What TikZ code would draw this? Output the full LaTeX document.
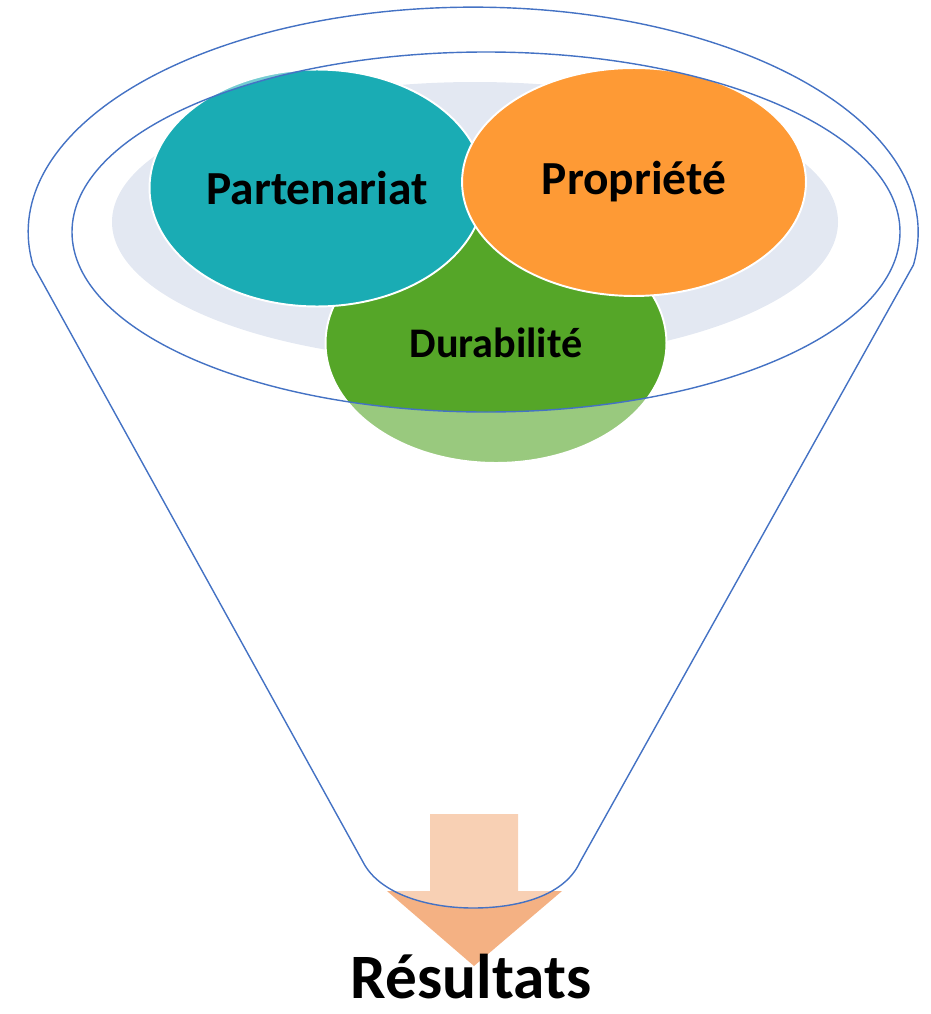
\documentclass[tikz,border=0pt]{standalone}
\usepackage{fontspec}
\setmainfont{Carlito}
\usetikzlibrary{shapes.geometric}

\definecolor{rimblue}{HTML}{4472C4}
\definecolor{haze}{HTML}{E3E8F2}
\definecolor{tealc}{HTML}{1AACB4}
\definecolor{orangec}{HTML}{FE9A35}
\definecolor{greenc}{HTML}{55A628}
\definecolor{arrowc}{HTML}{F4B183}

\begin{document}
\begin{tikzpicture}[x=0.02cm, y=0.02cm]
	\useasboundingbox (0,0) rectangle (930,-1014);
	\tikzset{blob/.style={draw=white, line width=1.1pt, ellipse, inner sep=0pt,
		font=\bfseries\fontsize{27}{30}\selectfont}}

	% background disc
	\fill[haze] (475,-222) ellipse [x radius=363, y radius=140];

	\node[blob, fill=greenc, minimum width=6.82cm, minimum height=4.8cm,
		font=\bfseries\fontsize{24}{28}\selectfont] (durab) at (496,-343) {Durabilité};
	\node[blob, fill=tealc, minimum width=6.7cm, minimum height=4.74cm]
		(parten) at (317,-188) {Partenariat};
	\node[blob, fill=orangec, minimum width=6.88cm, minimum height=4.56cm]
		(propr) at (634,-182) {Propriété};

	% arrow
	\fill[arrowc] (430,-814) -- (518,-814) -- (518,-891) -- (562,-891)
		-- (474,-966) -- (387,-891) -- (430,-891) -- cycle;

	\node[font=\bfseries\fontsize{36}{40}\selectfont, anchor=base, inner sep=0pt]
		(result) at (471,-998) {Résultats};

	% funnel
	\draw[rimblue, line width=0.8pt, fill=white, fill opacity=0.4, even odd rule]
		(33,-265) arc [start angle=188.4, end angle=-8.4, x radius=445, y radius=225]
		-- (580,-862) .. controls (565,-895) and (520,-908) .. (473,-908)
		.. controls (430,-908) and (380,-895) .. (363,-862) -- cycle
		(486,-232) ellipse [x radius=414, y radius=180];
\end{tikzpicture}
\end{document}
